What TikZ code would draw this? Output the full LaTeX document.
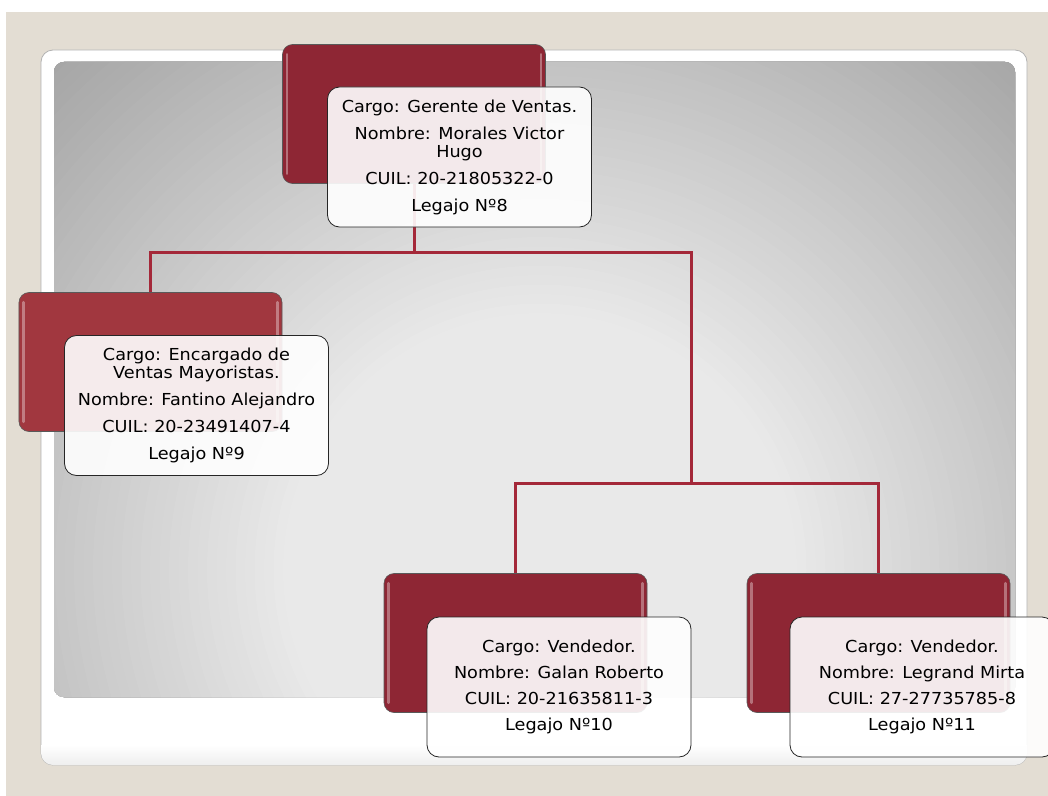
\documentclass[tikz,border=0pt]{standalone}
\usepackage{fontspec}
\setmainfont{DejaVu Sans}[FakeStretch=1.07]
\definecolor{sand}{HTML}{E3DDD3}
\definecolor{boxred}{HTML}{8E2634}
\definecolor{boxredlight}{HTML}{A1373F}
\definecolor{wire}{HTML}{A42839}
\definecolor{paneldark}{HTML}{9C9C9C}
\definecolor{panellight}{HTML}{E9E9E9}
\newcommand\infofont{\fontsize{16.5bp}{18bp}\selectfont}
\begin{document}
\begin{tikzpicture}[x=1bp,y=-1bp,
  redbox/.style={draw=black!65, line width=0.6bp, rounded corners=10bp,
    minimum width=263bp, minimum height=139bp, inner sep=0pt, fill=boxred},
  infobox/.style={draw=black!85, line width=0.8bp, rounded corners=12bp,
    minimum width=264bp, minimum height=140bp, inner sep=0pt,
    fill=white, fill opacity=0.9, text opacity=1, align=center,
    font=\infofont, text=black},
  glint/.style={draw=white, draw opacity=0.35, line width=2.5bp, line cap=round},
  wirepath/.style={draw=wire, line width=3bp}
]
\useasboundingbox (0,0) rectangle (1048,796);
% page background
\fill[white] (0,0) rectangle (1048,796);
\fill[sand] (6,12) rectangle (1048,796);
% white slide frame
\path[fill=white, draw=black!30, line width=0.8bp, rounded corners=12bp] (41,50) rectangle (1027,765);
\begin{scope}
  \clip[rounded corners=12bp] (41,50) rectangle (1027,765);
  \shade[top color=white, bottom color=black!7] (41,745) rectangle (1027,766);
\end{scope}
% grey panel with a radial glow
\begin{scope}
  \clip[rounded corners=10bp] (54,62) rectangle (1015,697);
  \foreach \i in {0,...,79} {
    \pgfmathsetmacro\p{min(100,\i*100/54)}
    \fill[panellight!\p!paneldark] (540,570) circle [radius={770-\i*9.5}];
  }
\end{scope}

% red header boxes
\node[redbox] (r1) at (414,114) {};
\node[redbox, fill=boxredlight] (r2) at (150.5,362) {};
\node[redbox] (r3) at (515.5,643) {};
\node[redbox] (r4) at (878.5,643) {};
\foreach \n in {r1,r2,r3,r4} {
  \draw[glint] ([shift={(5,10)}]\n.north west) -- ([shift={(5,-10)}]\n.south west);
  \draw[glint] ([shift={(-5,10)}]\n.north east) -- ([shift={(-5,-10)}]\n.south east);
}

% connectors
\coordinate (j1) at (414,252);
\coordinate (j2) at (691,483);
\draw[wirepath] (r1.south) -- (j1) -| (r2.north);
\draw[wirepath] (j1) -| (j2);
\draw[wirepath] (j2) -| (r3.north);
\draw[wirepath] (j2) -| (r4.north);

% info cards
\node[infobox] (w1) at (459.5,157) {Cargo: Gerente de Ventas.\\[9bp]
  Nombre: Morales Victor\\Hugo\\[9bp]
  CUIL: 20-21805322-0\\[9bp]
  Legajo Nº8};
\node[infobox] (w2) at (196.5,405.5) {Cargo: Encargado de\\Ventas Mayoristas.\\[9bp]
  Nombre: Fantino Alejandro\\[9bp]
  CUIL: 20-23491407-4\\[9bp]
  Legajo Nº9};
\node[infobox] (w3) at (559,687) {Cargo: Vendedor.\\[8bp]
  Nombre: Galan Roberto\\[8bp]
  CUIL: 20-21635811-3\\[8bp]
  Legajo Nº10};
\node[infobox] (w4) at (922,687) {Cargo: Vendedor.\\[8bp]
  Nombre: Legrand Mirta\\[8bp]
  CUIL: 27-27735785-8\\[8bp]
  Legajo Nº11};
\end{tikzpicture}
\end{document}
